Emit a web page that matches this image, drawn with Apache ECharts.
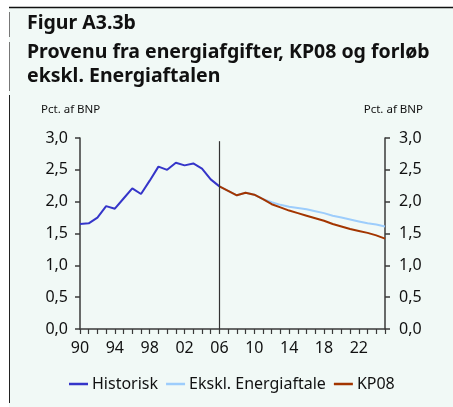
<!DOCTYPE html>
<html>
<head>
<meta charset="utf-8">
<script src="https://cdn.jsdelivr.net/npm/echarts@6/dist/echarts.min.js"></script>
<style>
  html, body { margin: 0; padding: 0; background: #ffffff; }
  #chart { width: 453px; height: 407px; }
</style>
</head>
<body>
<div id="chart"></div>
<script>
// historiske år og værdier (pct. af BNP)
var histYears = [1990, 1991, 1992, 1993, 1994, 1995, 1996, 1997, 1998, 1999, 2000, 2001, 2002, 2003, 2004, 2005, 2006];
var histValues = [1.65, 1.66, 1.75, 1.93, 1.89, 2.05, 2.21, 2.12, 2.33, 2.55, 2.50, 2.61, 2.57, 2.60, 2.52, 2.35, 2.24];

// fremskrivning
var projYears = [2006, 2007, 2008, 2009, 2010, 2011, 2012, 2013, 2014, 2015, 2016, 2017, 2018, 2019, 2020, 2021, 2022, 2023, 2024, 2025];
var eksklValues = [2.24, 2.17, 2.10, 2.14, 2.11, 2.04, 1.99, 1.95, 1.92, 1.90, 1.88, 1.85, 1.82, 1.78, 1.75, 1.72, 1.69, 1.66, 1.64, 1.61];
var kp08Values = [2.24, 2.17, 2.10, 2.14, 2.11, 2.04, 1.96, 1.91, 1.86, 1.82, 1.78, 1.74, 1.70, 1.65, 1.61, 1.57, 1.54, 1.51, 1.47, 1.42];

var seriesNames = ['Historisk', 'Ekskl. Energiaftale', 'KP08'];
var markYear = 2006;

function pairs(xs, ys) {
  return xs.map(function (x, i) { return [x, ys[i]]; });
}

var font = '"Noto Sans", sans-serif';
var axisColor = '#3a3a3a';

var chart = echarts.init(document.getElementById('chart'));

function yAxisCfg(pos, margin) {
  return {
    type: 'value',
    position: pos,
    min: 0,
    max: 3,
    interval: 0.5,
    axisLine: { show: true, lineStyle: { color: axisColor, width: 1.5 } },
    axisTick: { show: true, length: 5, lineStyle: { color: axisColor, width: 1.5 } },
    splitLine: { show: false },
    axisLabel: {
      margin: margin,
      color: '#111',
      fontFamily: font,
      fontSize: 16,
      formatter: function (v) { return v.toFixed(1).replace('.', ','); }
    }
  };
}

var option = {
  backgroundColor: '#f1f9f6',
  animation: false,
  textStyle: { fontFamily: font },
  grid: { left: 80, right: 68, top: 138, bottom: 78 },
  xAxis: {
    type: 'value',
    min: 1990,
    max: 2025,
    interval: 1,
    axisLine: { show: true, onZero: false, lineStyle: { color: axisColor, width: 1.5 } },
    axisTick: { show: true, length: 5, lineStyle: { color: axisColor, width: 1.2 } },
    splitLine: { show: false },
    axisLabel: {
      margin: 11,
      color: '#111',
      fontFamily: font,
      fontSize: 16,
      showMaxLabel: true,
      formatter: function (v) {
        return (v - 1990) % 4 === 0 ? String(v).slice(2) : '';
      }
    }
  },
  yAxis: [yAxisCfg('left', 12), yAxisCfg('right', 14)],
  legend: {
    left: 69,
    top: 376,
    padding: 0,
    icon: 'rect',
    itemWidth: 19,
    itemHeight: 2.5,
    itemGap: 8,
    textStyle: { fontFamily: font, fontSize: 16, color: '#111', padding: [0, 0, 0, -1] },
    data: seriesNames
  },
  graphic: [
    { type: 'rect', shape: { x: 0, y: 0, width: 453, height: 7 }, style: { fill: '#ffffff' } },
    { type: 'rect', shape: { x: 0, y: 0, width: 9, height: 407 }, style: { fill: '#ffffff' } },
    { type: 'line', shape: { x1: 9, y1: 7.5, x2: 453, y2: 7.5 }, style: { stroke: '#111', lineWidth: 1.5 } },
    { type: 'line', shape: { x1: 9.5, y1: 12, x2: 9.5, y2: 37 }, style: { stroke: '#777', lineWidth: 1 } },
    { type: 'line', shape: { x1: 9.5, y1: 42, x2: 9.5, y2: 91 }, style: { stroke: '#777', lineWidth: 1 } },
    { type: 'line', shape: { x1: 9.5, y1: 95, x2: 9.5, y2: 403 }, style: { stroke: '#222', lineWidth: 1 } },
    { type: 'text', left: 27, top: 13, style: { text: 'Figur A3.3b', font: 'bold 19.5px ' + font, fill: '#111' } },
    { type: 'text', left: 27, top: 42, style: { text: 'Provenu fra energiafgifter, KP08 og forløb', font: 'bold 19.5px ' + font, fill: '#111' } },
    { type: 'text', left: 27, top: 66, style: { text: 'ekskl. Energiaftalen', font: 'bold 19.5px ' + font, fill: '#111' } },
    { type: 'text', left: 41, top: 104, style: { text: 'Pct. af BNP', font: '11.5px ' + font, fill: '#111' } },
    { type: 'text', right: 30, top: 104, style: { text: 'Pct. af BNP', font: '11.5px ' + font, fill: '#111' } }
  ],
  series: [
    {
      name: seriesNames[0],
      type: 'line',
      data: pairs(histYears, histValues),
      showSymbol: false,
      z: 4,
      itemStyle: { color: '#3535c9' },
      lineStyle: { color: '#3535c9', width: 2 },
      markLine: {
        silent: true,
        symbol: 'none',
        label: { show: false },
        lineStyle: { color: '#333', width: 1.2, type: 'solid' },
        data: [[{ coord: [markYear, 0] }, { coord: [markYear, 2.95] }]]
      }
    },
    {
      name: seriesNames[1],
      type: 'line',
      data: pairs(projYears, eksklValues),
      showSymbol: false,
      z: 2,
      itemStyle: { color: '#9dcdfc' },
      lineStyle: { color: '#9dcdfc', width: 2 }
    },
    {
      name: seriesNames[2],
      type: 'line',
      data: pairs(projYears, kp08Values),
      showSymbol: false,
      z: 3,
      itemStyle: { color: '#a33500' },
      lineStyle: { color: '#a33500', width: 2 }
    }
  ]
};

chart.setOption(option);
window.addEventListener('resize', function () { chart.resize(); });
</script>
</body>
</html>
